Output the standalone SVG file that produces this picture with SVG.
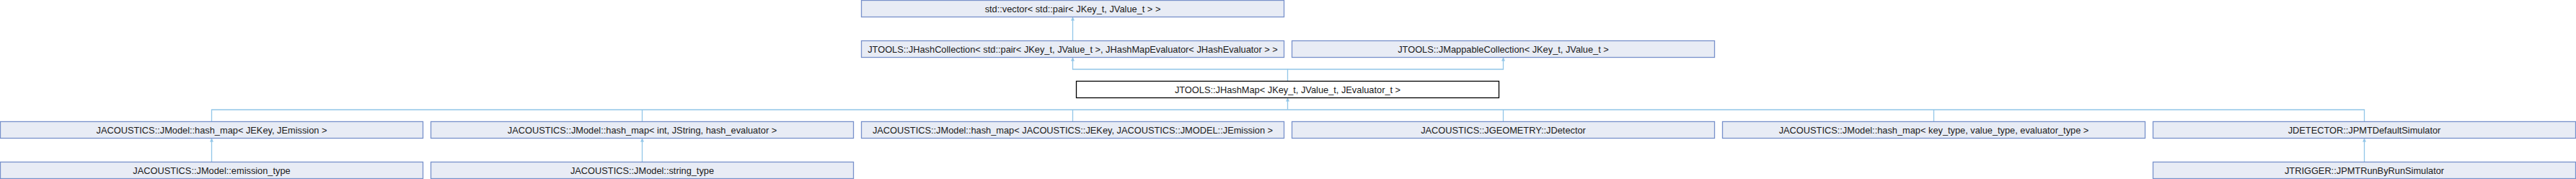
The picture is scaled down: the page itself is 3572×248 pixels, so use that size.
<svg xmlns="http://www.w3.org/2000/svg" width="3572" height="248" viewBox="0 0 3572 248">
<style>
.n rect{fill:#E8ECF5;stroke:#7891CB;stroke-width:1.3}
.cur rect{fill:#ffffff;stroke:#000000;stroke-width:1.3}
text{font-family:"Liberation Sans",Arial,sans-serif;font-size:12.8px;fill:#1a1a1a;text-anchor:middle}
.e path{fill:none;stroke:#92C6E8;stroke-width:1.3}
</style>
<defs>
<marker id="ah" viewBox="0 0 10 10" refX="10" refY="5" markerWidth="5" markerHeight="6" markerUnits="userSpaceOnUse" orient="auto">
<path d="M0,0 L10,5 L0,10 z" fill="#92C6E8"/>
</marker>
</defs>
<rect width="3572" height="248" fill="#ffffff"/>
<g id="connectors" class="e">
<path d="M1487.5,56.5 V23.5" marker-end="url(#ah)"/>
<path d="M1785.5,112.5 V96 H1487.5 V79.5" marker-end="url(#ah)"/>
<path d="M1785.5,96 H2084.5 V79.5" marker-end="url(#ah)"/>
<path d="M293.5,168.5 V152 H3278.5 V168.5"/>
<path d="M890.5,152 V168.5 M1487.5,152 V168.5 M2084.5,152 V168.5 M2681.5,152 V168.5"/>
<path d="M1785.5,152 V135.5" marker-end="url(#ah)"/>
<path d="M293.5,224.5 V191.5" marker-end="url(#ah)"/>
<path d="M890.5,224.5 V191.5" marker-end="url(#ah)"/>
<path d="M3278.5,224.5 V191.5" marker-end="url(#ah)"/>
</g>
<g id="n_vector" class="n"><rect x="1194.5" y="0.5" width="586" height="23"/><text x="1487.5" y="16.5">std::vector&lt; std::pair&lt; JKey_t, JValue_t &gt; &gt;</text></g>
<g id="n_hashcollection" class="n"><rect x="1194.5" y="56.5" width="586" height="23"/><text x="1487.5" y="72.5">JTOOLS::JHashCollection&lt; std::pair&lt; JKey_t, JValue_t &gt;, JHashMapEvaluator&lt; JHashEvaluator &gt; &gt;</text></g>
<g id="n_mappable" class="n"><rect x="1791.5" y="56.5" width="586" height="23"/><text x="2084.5" y="72.5">JTOOLS::JMappableCollection&lt; JKey_t, JValue_t &gt;</text></g>
<g id="n_hashmap" class="cur"><rect x="1492.5" y="112.5" width="586" height="23"/><text x="1785.5" y="128.5">JTOOLS::JHashMap&lt; JKey_t, JValue_t, JEvaluator_t &gt;</text></g>
<g id="n_hm_jekey" class="n"><rect x="0.5" y="168.5" width="586" height="23"/><text x="293.5" y="184.5">JACOUSTICS::JModel::hash_map&lt; JEKey, JEmission &gt;</text></g>
<g id="n_hm_int" class="n"><rect x="597.5" y="168.5" width="586" height="23"/><text x="890.5" y="184.5">JACOUSTICS::JModel::hash_map&lt; int, JString, hash_evaluator &gt;</text></g>
<g id="n_hm_full" class="n"><rect x="1194.5" y="168.5" width="586" height="23"/><text x="1487.5" y="184.5">JACOUSTICS::JModel::hash_map&lt; JACOUSTICS::JEKey, JACOUSTICS::JMODEL::JEmission &gt;</text></g>
<g id="n_jdetector" class="n"><rect x="1791.5" y="168.5" width="586" height="23"/><text x="2084.5" y="184.5">JACOUSTICS::JGEOMETRY::JDetector</text></g>
<g id="n_hm_key" class="n"><rect x="2388.5" y="168.5" width="586" height="23"/><text x="2681.5" y="184.5">JACOUSTICS::JModel::hash_map&lt; key_type, value_type, evaluator_type &gt;</text></g>
<g id="n_pmtdefault" class="n"><rect x="2985.5" y="168.5" width="586" height="23"/><text x="3278.5" y="184.5">JDETECTOR::JPMTDefaultSimulator</text></g>
<g id="n_emission" class="n"><rect x="0.5" y="224.5" width="586" height="23"/><text x="293.5" y="240.5">JACOUSTICS::JModel::emission_type</text></g>
<g id="n_string" class="n"><rect x="597.5" y="224.5" width="586" height="23"/><text x="890.5" y="240.5">JACOUSTICS::JModel::string_type</text></g>
<g id="n_runbyrun" class="n"><rect x="2985.5" y="224.5" width="586" height="23"/><text x="3278.5" y="240.5">JTRIGGER::JPMTRunByRunSimulator</text></g>
</svg>
